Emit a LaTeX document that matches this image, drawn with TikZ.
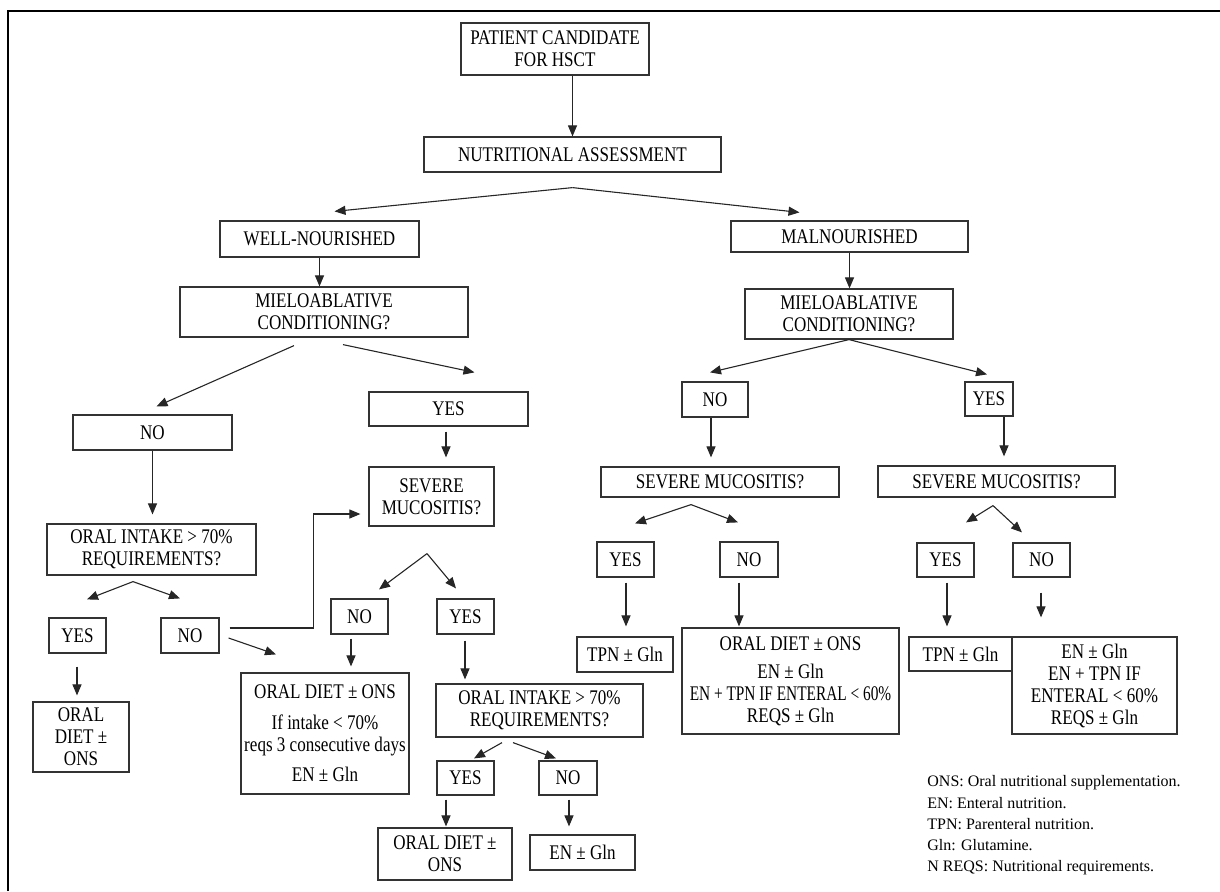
\documentclass[tikz,border=0pt]{standalone}
\usepackage{fontspec}
\usepackage{graphicx}
\setmainfont{Liberation Serif}
\newfontfamily\cond{Liberation Serif}[FakeStretch=0.82]
\usetikzlibrary{arrows.meta,calc}

\tikzset{
  box/.style={draw=black!80, line width=0.6pt, inner sep=0pt, align=center,
              font=\cond\fontsize{10.4}{11}\selectfont},
  arr/.style={draw=black!85, line width=0.55pt, -{Triangle[length=5.5pt,width=4.5pt]}},
  frameline/.style={draw=black, line width=1pt},
  legend/.style={anchor=west, align=left, inner sep=0pt, font=\fontsize{8}{10.6}\selectfont},
}

\newcommand\bx[6]{%
  \pgfmathsetmacro\bxw{(#4-#2)*0.5}%
  \pgfmathsetmacro\bxh{(#5-#3)*0.5}%
  \node[box, minimum width=\bxw pt, minimum height=\bxh pt] (#1) at ({(#2+#4)/2},{(#3+#5)/2}) {#6};}

\begin{document}
\begin{tikzpicture}[x=0.5pt,y=-0.5pt]
\useasboundingbox (0,0) rectangle (1220,891);
\draw[frameline] (8,891) -- (8,11) -- (1220,11);

% boxes
\bx{pc}{461}{23}{649}{75}{PATIENT CANDIDATE\\FOR HSCT}
\bx{na}{424}{137}{721}{172}{NUTRITIONAL ASSESSMENT}
\bx{wn}{220}{221}{419}{257}{WELL-NOURISHED}
\bx{mn}{731}{221}{968}{252}{MALNOURISHED}
\bx{mc1}{180}{287}{468}{337}{MIELOABLATIVE\\CONDITIONING?}
\bx{mc2}{745}{289}{953}{339}{MIELOABLATIVE\\CONDITIONING?}
\bx{no1}{73}{415}{232}{450}{NO}
\bx{yes1}{369}{392}{528}{426}{YES}
\bx{oi1}{47}{524}{256}{575}{ORAL INTAKE > 70\%\\REQUIREMENTS?}
\bx{sm1}{369}{467}{494}{526}{SEVERE\\MUCOSITIS?}
\bx{yes2}{49}{618}{106}{653}{YES}
\bx{no2}{161}{618}{219}{653}{NO}
\bx{od1}{33}{702}{129}{772}{ORAL\\DIET ±\\ONS}
\bx{no3}{331}{599}{388}{634}{NO}
\bx{yes3}{437}{599}{494}{634}{YES}
\bx{od2}{241}{673}{409}{794}{ORAL DIET ± ONS\\[4.5pt]If intake < 70\%\\reqs 3 consecutive days\\[4pt]EN ± Gln}
\bx{oi2}{436}{684}{643}{737}{ORAL INTAKE > 70\%\\REQUIREMENTS?}
\bx{yes4}{437}{761}{494}{795}{YES}
\bx{no4}{539}{761}{597}{795}{NO}
\bx{od3}{378}{828}{512}{880}{ORAL DIET ±\\ONS}
\bx{en1}{530}{835}{635}{870}{EN ± Gln}
\bx{no5}{682}{382}{748}{417}{NO}
\bx{sm2}{601}{467}{839}{497}{SEVERE MUCOSITIS?}
\bx{yes5}{597}{542}{654}{577}{YES}
\bx{no6}{720}{542}{778}{577}{NO}
\bx{tpn1}{577}{637}{673}{672}{TPN ± Gln}
\bx{od4}{682}{628}{899}{734}{ORAL DIET ± ONS\\[3pt]EN ± Gln\\\scalebox{0.9}[1]{EN + TPN IF ENTERAL < 60\%}\\REQS ± Gln}
\bx{yes6}{965}{382}{1013}{416}{YES}
\bx{sm3}{878}{466}{1115}{497}{SEVERE MUCOSITIS?}
\bx{yes7}{917}{543}{974}{577}{YES}
\bx{no7}{1013}{543}{1070}{577}{NO}
\bx{tpn2}{909}{637}{1012}{671}{TPN ± Gln}
\bx{en2}{1012}{637}{1177}{734}{EN ± Gln\\EN + TPN IF\\ENTERAL < 60\%\\REQS ± Gln}

\node[legend] (leg) at (927,825.5) {ONS: Oral nutritional supplementation.\\EN: Enteral nutrition.\\TPN: Parenteral nutrition.\\Gln: Glutamine.\\N REQS: Nutritional requirements.};

% connectors
\draw[arr] (pc.south -| na.north) -- (na.north);
\coordinate (s1) at ($(na.south)+(0,15)$);
\draw[arr] (s1) -- ($(wn.north)+(15,-9)$);
\draw[arr] (s1) -- ($(mn.north)+(-50,-8)$);
\draw[arr] (wn.south) -- (wn.south |- mc1.north);
\draw[arr] (mn.south) -- (mn.south |- mc2.north);
\draw[arr] ($(mc1.south)+(-30,8)$) -- ($(no1.north)+(4,-8)$);
\draw[arr] ($(mc1.south)+(19,7)$) -- ($(yes1.north)+(26,-19)$);
\draw[arr] (no1.south) -- ($(no1.south |- oi1.north)+(0,-9)$);
\coordinate (s2) at ($(oi1.south)+(-18.5,6)$);
\draw[arr] (s2) -- ($(yes2.north)+(9.5,-18)$);
\draw[arr] (s2) -- ($(no2.north)+(-10,-19)$);
\draw[arr] ($(yes2.south)+(-0.5,13)$) -- ($(yes2.south |- od1.north)+(-0.5,-6)$);
\draw[arr] ($(no2.east)+(9,2.5)$) -- ($(od2.north)+(-49,-18)$);
\draw[arr] ($(no2.east)+(10,-7.5)$) -- ++(84,0) |- ($(sm1.west)+(-8,17.5)$);
\draw[arr] ($(yes1.south)+(-2.5,5)$) -- ($(yes1.south |- sm1.north)+(-2.5,-9)$);
\coordinate (s3) at ($(sm1.south)+(-4.5,27)$);
\draw[arr] (s3) -- ($(no3.north)+(19.5,-9)$);
\draw[arr] (s3) -- ($(yes3.north)+(-9.5,-10)$);
\draw[arr] ($(no3.south)+(-8.5,4)$) -- ($(no3.south |- od2.north)+(-8.5,-6)$);
\draw[arr] ($(yes3.south)+(-0.5,6)$) -- ($(yes3.south |- oi2.north)+(-0.5,-4)$);
\draw[arr] ($(oi2.south)+(-37.5,5)$) -- ($(yes4.north)+(8.5,-2)$);
\draw[arr] ($(oi2.south)+(-26.5,5)$) -- ($(no4.north)+(-12,-2)$);
\draw[arr] ($(yes4.south)+(-19.5,4)$) -- ($(yes4.south |- od3.north)+(-19.5,-1)$);
\draw[arr] ($(no4.south)+(1,4)$) -- ($(no4.south |- en1.north)+(1,-8)$);
\coordinate (s4) at (mc2.south);
\draw[arr] (s4) -- ($(no5.north)+(-5,-9)$);
\draw[arr] (s4) -- ($(yes6.north)+(-2,-7)$);
\draw[arr] ($(no5.south)+(-4,0)$) -- ($(no5.south |- sm2.north)+(-4,-9)$);
\draw[arr] ($(yes6.south)+(15,0)$) -- ($(yes6.south |- sm3.north)+(15,-9)$);
\coordinate (s5) at ($(sm2.south)+(-29,7)$);
\draw[arr] (s5) -- ($(yes5.north)+(9.5,-18)$);
\draw[arr] (s5) -- ($(no6.north)+(-11,-19)$);
\draw[arr] ($(yes5.south)+(0.5,5)$) -- ($(yes5.south |- tpn1.north)+(0.5,-10)$);
\draw[arr] ($(no6.south)+(-10,5)$) -- ($(no6.south |- od4.north)+(-10,-1)$);
\coordinate (s6) at ($(sm3.south)+(-3.5,8)$);
\draw[arr] (s6) -- ($(yes7.north)+(20.5,-20)$);
\draw[arr] (s6) -- ($(no7.north)+(-19.5,-10)$);
\draw[arr] ($(yes7.south)+(1.5,5)$) -- ($(yes7.south |- tpn2.north)+(1.5,-10)$);
\draw[arr] ($(no7.south)+(-0.5,15)$) -- ($(no7.south |- en2.north)+(-0.5,-19)$);
\end{tikzpicture}
\end{document}
